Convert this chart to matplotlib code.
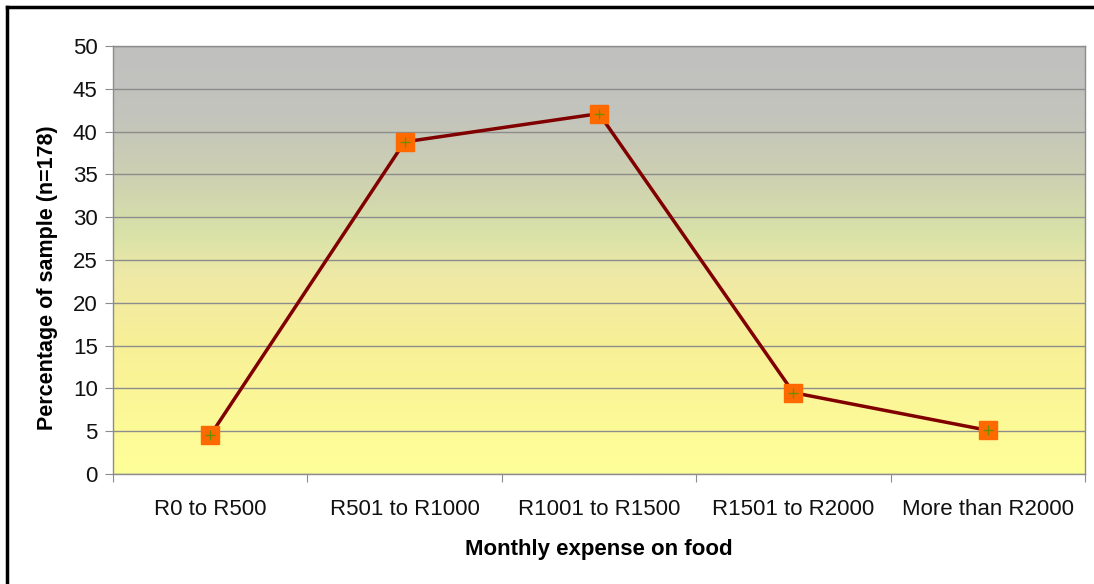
import matplotlib
matplotlib.use("Agg")
import matplotlib.pyplot as plt
import numpy as np
from matplotlib.colors import LinearSegmentedColormap
from matplotlib.lines import Line2D

categories = ["R0 to R500", "R501 to R1000", "R1001 to R1500", "R1501 to R2000", "More than R2000"]
percentages = [4.5, 38.8, 42.1, 9.5, 5.1]
y_ticks = [0, 5, 10, 15, 20, 25, 30, 35, 40, 45, 50]

plt.rcParams['font.family'] = ['Liberation Sans', 'DejaVu Sans']

fig = plt.figure(figsize=(10.94, 5.84), dpi=100)
ax = fig.add_axes([113/1094, 110/584, 972/1094, 428/584])

# gradient background
stops = [(0.0, "#ffff99"), (0.3, "#f8f096"), (0.46, "#efe9a6"), (0.56, "#d9e2a8"),
         (0.7, "#cdd0b2"), (0.84, "#c3c4bc"), (1.0, "#c0c0c0")]
cmap = LinearSegmentedColormap.from_list("bg", stops)
grad = np.linspace(0, 1, 256).reshape(-1, 1)
ax.imshow(grad, cmap=cmap, origin="lower", aspect="auto",
          extent=(-0.5, 4.5, 0, 50), zorder=0)

x = np.arange(len(categories))
ax.plot(x, percentages, color="#800000", lw=2.5, zorder=3)
ax.plot(x, percentages, ls="none", marker="s", markersize=13,
        markerfacecolor="#ff6a00", markeredgecolor="#ff6a00", zorder=4)
ax.plot(x, percentages, ls="none", marker="+", markersize=7, mew=1,
        color="#6b8e00", zorder=5)

ax.set_xlim(-0.5, 4.5)
ax.set_ylim(0, 50)
ax.set_yticks(y_ticks)
ax.set_yticklabels([str(v) for v in y_ticks], fontsize=16)
ax.yaxis.grid(True, color="#8c8c8c", lw=1)
ax.set_axisbelow(False)
for gl in ax.get_ygridlines():
    gl.set_zorder(1)

ax.set_xticks(np.arange(-0.5, 5.0, 1.0))
ax.set_xticklabels([])
ax.set_xticks(x, minor=True)
ax.set_xticklabels(categories, minor=True, fontsize=16)
ax.tick_params(axis="x", which="minor", length=0, pad=18)
ax.tick_params(axis="x", which="major", length=6, color="#8c8c8c", direction="out")
ax.tick_params(axis="y", length=6, color="#8c8c8c", pad=5, labelcolor="#111111")
ax.tick_params(axis="x", which="minor", labelcolor="#111111")

for s in ax.spines.values():
    s.set_color("#8c8c8c")
    s.set_linewidth(1)

ax.set_xlabel("Monthly expense on food", fontsize=16, fontweight="bold", labelpad=14)
ax.set_ylabel("Percentage of sample (n=178)", fontsize=15.5, fontweight="bold")
ax.yaxis.set_label_coords(-0.057, 0.458)

# outer border (top and left)
fig.add_artist(Line2D([7/1094, 7/1094], [0, 1 - 7/584], transform=fig.transFigure,
                      color="black", lw=2.5))
fig.add_artist(Line2D([7/1094, 1], [1 - 7/584, 1 - 7/584], transform=fig.transFigure,
                      color="black", lw=2.5))

fig.savefig("out.png", dpi=100)
